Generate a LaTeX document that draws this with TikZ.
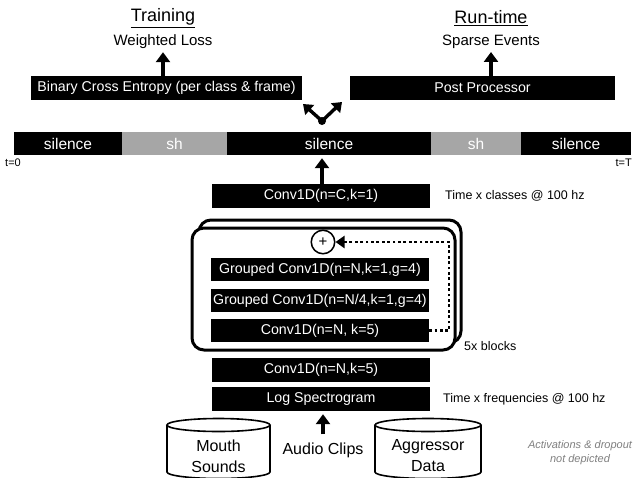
\documentclass[tikz,border=0pt]{standalone}
\usepackage{fontspec}
\setmainfont{Liberation Sans}
\usetikzlibrary{arrows.meta}
\definecolor{shgray}{HTML}{A6A6A6}
\definecolor{notegray}{HTML}{7F7F7F}
\begin{document}
\begin{tikzpicture}[x=1pt,y=-1pt,
 blk/.style={fill=black,text=white,inner sep=0pt,minimum height=23.5pt,font=\fontsize{14.2}{16}\selectfont},
 seg/.style={inner sep=0pt,minimum height=23pt,text=white,font=\fontsize{15.5}{17}\selectfont},
 arr/.style={-{Triangle[length=10pt,width=14pt]},line width=3.4pt},
 lbl/.style={font=\fontsize{12.5}{14}\selectfont,anchor=west,inner sep=0pt},
 tlab/.style={font=\fontsize{11}{13}\selectfont,inner sep=0pt},
 outer/.style={draw,line width=3pt,rounded corners=12pt,fill=white,inner sep=0pt},
 cyl/.style={draw,line width=1.6pt,fill=white},
 big/.style={font=\fontsize{16}{19}\selectfont,inner sep=0pt}
]
\useasboundingbox (0,0) rectangle (644,477);
\clip (0,0) rectangle (644,477);

% titles
\node[font=\fontsize{18}{21}\selectfont,inner sep=0pt] (train) at (163,18) {\underline{Training}};
\node[font=\fontsize{15}{18}\selectfont,inner sep=0pt] (wl) at (163,42) {Weighted Loss};
\node[font=\fontsize{18}{21}\selectfont,inner sep=0pt] (run) at (491,18) {\underline{Run-time}};
\node[font=\fontsize{15}{18}\selectfont,inner sep=0pt] (se) at (491,42) {Sparse Events};

% output boxes
\node[blk,minimum width=271pt,minimum height=24pt] (bce) at (166.5,88) {Binary Cross Entropy (per class \& frame)};
\node[blk,minimum width=265pt,minimum height=24pt] (post) at (482.5,88) {Post Processor};

\draw[arr] (bce.north -| wl.south) -- ([yshift=-3pt]wl.south);
\draw[arr] (post.north -| se.south) -- ([yshift=-3pt]se.south);

% fork
\coordinate (fork) at (322,121);
\coordinate (forkL) at (303,104);
\coordinate (forkR) at (342,102);
\fill (fork) circle (4pt);
\draw[arr,-{Triangle[length=9pt,width=13pt]}] (fork) -- (forkL);
\draw[arr,-{Triangle[length=9pt,width=13pt]}] (fork) -- (forkR);

% timeline bar
\node[seg,fill=black,minimum width=108pt] (s1) at (68,143.5) {silence};
\node[seg,fill=shgray,minimum width=105pt] (h1) at (174.5,143.5) {sh};
\node[seg,fill=black,minimum width=204pt] (s2) at (329,143.5) {silence};
\node[seg,fill=shgray,minimum width=90pt] (h2) at (476,143.5) {sh};
\node[seg,fill=black,minimum width=110pt] (s3) at (576,143.5) {silence};
\node[tlab,anchor=west] (t0) at (5,163) {t=0};
\node[tlab,anchor=east] (tT) at (632,163) {t=T};

% conv C
\node[blk,minimum width=218pt] (convC) at (321,196) {Conv1D(n=C,k=1)};
\draw[arr] (convC.north -| fork) -- ([yshift=-3pt]s2.south -| fork);
\node[lbl] (tc) at (445,196) {Time x classes @ 100 hz};

% block
\node[outer,minimum width=262pt,minimum height=123pt] (blockback) at (330,281.5) {};
\node[outer,minimum width=263pt,minimum height=122pt] (block) at (323.5,289) {};
\node[draw,circle,line width=1.5pt,minimum size=23.5pt,inner sep=0pt,font=\fontsize{15}{17}\selectfont] (plus) at (323,242) {+};
\node[blk,minimum width=218pt] (g1) at (320,269.5) {Grouped Conv1D(n=N,k=1,g=4)};
\node[blk,minimum width=218pt] (g2) at (320,300.5) {Grouped Conv1D(n=N/4,k=1,g=4)};
\node[blk,minimum width=218pt] (c5) at (320,330.5) {Conv1D(n=N, k=5)};
\coordinate (loop) at (449,330.5);
\draw[line width=2.8pt,dash pattern=on 2.8pt off 2.6pt,-{Triangle[length=9pt,width=12pt]}] (c5.east) -- (loop) |- (plus.east);
\node[lbl] (fx) at (464,346) {5x blocks};

% front end
\node[blk,minimum width=218pt,minimum height=24pt] (convN) at (321,370) {Conv1D(n=N,k=5)};
\node[blk,minimum width=218pt,minimum height=24pt] (logs) at (321,399) {Log Spectrogram};
\node[lbl] (tf) at (443,399) {Time x frequencies @ 100 hz};

% cylinders
\draw[cyl] (167,425) -- (167,472) arc[start angle=180,end angle=360,x radius=51.5pt,y radius=6.5pt] -- (270,425);
\draw[cyl] (218.5,425) ellipse[x radius=51.5pt,y radius=6.5pt];
\node[big,align=center] (mouth) at (218.5,456) {Mouth\\[2pt]Sounds};
\draw[cyl] (375,425) -- (375,472) arc[start angle=180,end angle=360,x radius=53pt,y radius=6.5pt] -- (481,425);
\draw[cyl] (428,425) ellipse[x radius=53pt,y radius=6.5pt];
\node[big,align=center] (aggr) at (428,456) {Aggressor\\[2pt]Data};

\node[big] (audio) at (323,450) {Audio Clips};
\draw[arr] ([yshift=8pt]audio.north) -- ([yshift=-3pt]logs.south -| audio);

\node[font=\fontsize{11}{13}\selectfont\itshape,text=notegray,align=center,inner sep=0pt] (note) at (580,453) {Activations \& dropout\\[1pt]not depicted};
\end{tikzpicture}
\end{document}
